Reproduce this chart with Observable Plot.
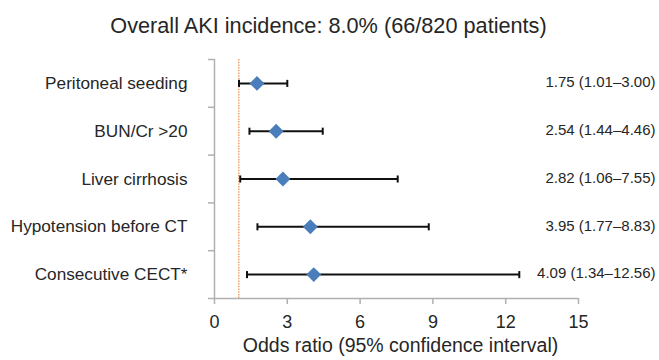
<!DOCTYPE html>
<html>
<head>
<meta charset="utf-8">
<script src="https://cdn.jsdelivr.net/npm/d3@7"></script>
<script src="https://cdn.jsdelivr.net/npm/@observablehq/plot@0.6"></script>
<style>
  html, body { margin: 0; padding: 0; background: #fff; }
  body { width: 659px; height: 360px; overflow: hidden; font-family: "Liberation Sans", Arial, sans-serif; color: #262626; }
  #title { height: 29px; padding-top: 15px; font-size: 21.7px; line-height: 21px; text-align: center; padding-right: 2px; }
  #chart svg { display: block; }
</style>
</head>
<body>
<div id="title">Overall AKI incidence: 8.0% (66/820 patients)</div>
<div id="chart"></div>
<script>
const title = "Overall AKI incidence: 8.0% (66/820 patients)";
const factors = ["Peritoneal seeding", "BUN/Cr >20", "Liver cirrhosis", "Hypotension before CT", "Consecutive CECT*"];
const oddsRatio = [1.75, 2.54, 2.82, 3.95, 4.09];
const ciLow = [1.01, 1.44, 1.06, 1.77, 1.34];
const ciHigh = [3.00, 4.46, 7.55, 8.83, 12.56];
const xTicks = [0, 3, 6, 9, 12, 15];
const xLabel = "Odds ratio (95% confidence interval)";
const refValue = 1;

const fmt = v => v.toFixed(2);
const rows = factors.map((name, i) => ({
  name, pos: i + 0.5, or: oddsRatio[i], lo: ciLow[i], hi: ciHigh[i],
  label: `${fmt(oddsRatio[i])} (${fmt(ciLow[i])}–${fmt(ciHigh[i])})`
}));
const bounds = d3.range(factors.length + 1);

const capSymbol = {
  draw(context, size) {
    const h = Math.sqrt(size) / 2;
    context.moveTo(0, -h);
    context.lineTo(0, h);
  }
};

const gray = "#b0b0b0";
const chart = Plot.plot({
  width: 659,
  height: 316,
  marginTop: 15,
  marginBottom: 62,
  marginLeft: 214,
  marginRight: 81,
  style: { fontFamily: '"Liberation Sans", Arial, sans-serif', color: "#262626", background: "#fff" },
  x: { domain: [0, 15], label: null },
  y: { domain: [0, factors.length], reverse: true, label: null },
  marks: [
    Plot.ruleX([0], { stroke: gray, strokeWidth: 1.5 }),
    Plot.ruleY([factors.length], { stroke: gray, strokeWidth: 1.5 }),
    Plot.axisY(bounds, { tickSize: 6, tickFormat: () => "", stroke: gray, strokeWidth: 1.5 }),
    Plot.axisY(rows.map(d => d.pos), { tickSize: 0, tickPadding: 27, fontSize: 17.2, tickFormat: d => factors[d - 0.5] }),
    Plot.axisX(xTicks, { tickSize: 6, tickPadding: 11, fontSize: 18, stroke: gray, strokeWidth: 1.5 }),
    Plot.text([xLabel], { frameAnchor: "bottom", lineAnchor: "middle", dy: 47, dx: 4, fontSize: 19.5 }),
    Plot.ruleX([refValue], { stroke: "#F4A070", strokeWidth: 1.5, strokeDasharray: "1.5,1.2" }),
    Plot.link(rows, { x1: "lo", x2: "hi", y1: "pos", y2: "pos", stroke: "#111", strokeWidth: 2 }),
    Plot.dot(rows, { x: "lo", y: "pos", symbol: capSymbol, r: 4, stroke: "#111", strokeWidth: 2 }),
    Plot.dot(rows, { x: "hi", y: "pos", symbol: capSymbol, r: 4, stroke: "#111", strokeWidth: 2 }),
    Plot.dot(rows, { x: "or", y: "pos", symbol: "diamond2", r: 6.7, fill: "#4a7ebb", stroke: "none" }),
    Plot.text(rows, { y: "pos", text: "label", frameAnchor: "right", textAnchor: "end", dx: 77, dy: -1, fontSize: 15 })
  ]
});
document.getElementById("chart").appendChild(chart);
</script>
</body>
</html>
